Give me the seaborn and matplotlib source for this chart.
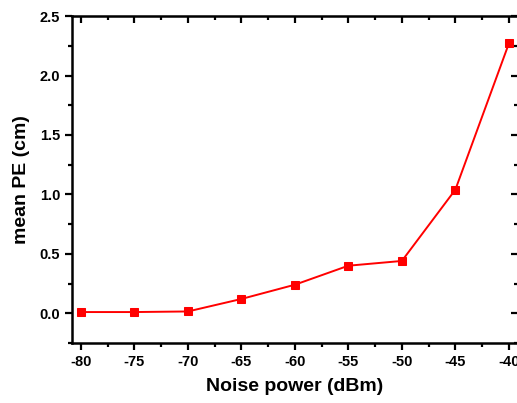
import matplotlib
matplotlib.use("Agg")
import matplotlib.pyplot as plt
import seaborn as sns
import pandas as pd
from matplotlib.ticker import MultipleLocator

# values
noise_power = [-80, -75, -70, -65, -60, -55, -50, -45, -40]
mean_pe = [0.01, 0.01, 0.015, 0.12, 0.24, 0.40, 0.44, 1.04, 2.27]

df = pd.DataFrame({"Noise power (dBm)": noise_power, "mean PE (cm)": mean_pe})

sns.set_style("ticks")
plt.rcParams['font.family'] = ['Liberation Sans', 'DejaVu Sans']
plt.rcParams['axes.unicode_minus'] = False
plt.rcParams['text.color'] = 'black'
plt.rcParams['axes.labelcolor'] = 'black'
plt.rcParams['xtick.color'] = 'black'
plt.rcParams['ytick.color'] = 'black'
plt.rcParams['axes.edgecolor'] = 'black'

fig = plt.figure(figsize=(5.17, 4.03), dpi=100)
ax = fig.add_axes([0.139, 0.149, 0.8627, 0.811])

sns.lineplot(
    ax=ax, data=df,
    x="Noise power (dBm)", y="mean PE (cm)",
    color="#ff0000", linewidth=1.4,
    marker="s", markersize=6, markeredgecolor="#ff0000",
)

ax.set_xlim(-80.84, -39.16)
ax.set_ylim(-0.25, 2.5)
ax.xaxis.set_major_locator(MultipleLocator(5))
ax.xaxis.set_minor_locator(MultipleLocator(2.5))
ax.yaxis.set_major_locator(MultipleLocator(0.5))
ax.yaxis.set_minor_locator(MultipleLocator(0.25))

for s in ax.spines.values():
    s.set_linewidth(1.8)

ax.tick_params(which="both", direction="out", width=1.6, labelsize=10.5)
ax.tick_params(which="major", length=5)
ax.tick_params(which="minor", length=3)
for lab in ax.get_xticklabels() + ax.get_yticklabels():
    lab.set_fontweight("bold")

ax.set_xlabel("Noise power (dBm)", fontsize=14, fontweight="bold", labelpad=7)
ax.set_ylabel("mean PE (cm)", fontsize=14, fontweight="bold", labelpad=7)

# mirrored ticks on top and right, pointing inward
top = ax.secondary_xaxis("top")
top.xaxis.set_major_locator(MultipleLocator(5))
top.xaxis.set_minor_locator(MultipleLocator(2.5))
top.tick_params(which="both", direction="in", width=1.6, labeltop=False)
top.tick_params(which="major", length=5)
top.tick_params(which="minor", length=3)
right = ax.secondary_yaxis("right")
right.yaxis.set_major_locator(MultipleLocator(0.5))
right.yaxis.set_minor_locator(MultipleLocator(0.25))
right.tick_params(which="both", direction="in", width=1.6, labelright=False)
right.tick_params(which="major", length=5)
right.tick_params(which="minor", length=3)

fig.savefig("out.png", dpi=100)
